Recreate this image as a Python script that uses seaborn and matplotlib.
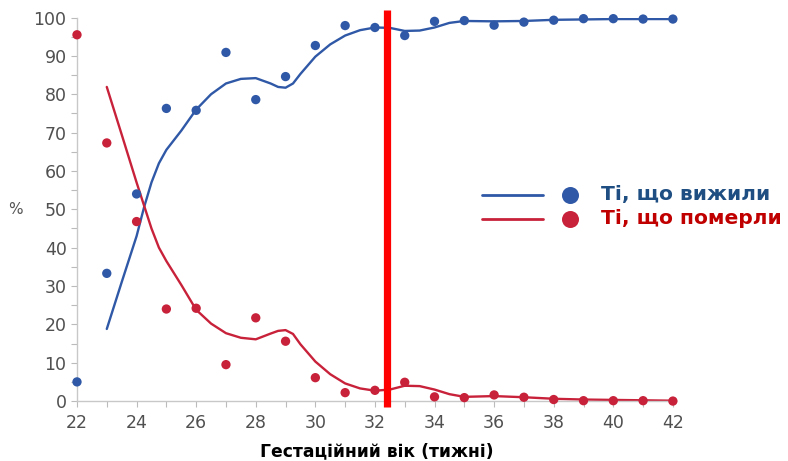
import numpy as np
import pandas as pd
import seaborn as sns
import matplotlib
matplotlib.use("Agg")
import matplotlib.pyplot as plt

# ---- data ----
weeks = list(range(22, 43))
survived_pts = [5, 33.3, 54, 76.3, 75.8, 90.9, 78.6, 84.6, 92.7, 97.9, 97.4,
                95.3, 99.0, 99.2, 98.0, 98.8, 99.3, 99.7, 99.7, 99.6, 99.6]
died_pts = [95.5, 67.3, 46.8, 24.0, 24.2, 9.5, 21.7, 15.6, 6.1, 2.2, 2.8,
            4.9, 1.1, 0.9, 1.6, 1.0, 0.4, 0.1, 0.1, 0.1, 0.0]

curve_x = [23, 23.5, 24, 24.25, 24.5, 24.75, 25, 25.5, 26, 26.5, 27, 27.5,
           28, 28.5, 28.75, 29, 29.25, 29.5, 30, 30.5, 31, 31.5, 32, 32.5,
           33, 33.5, 34, 34.5, 35, 36, 37, 38, 39, 40, 41, 42]
survived_curve = [18.8, 31, 43, 50.5, 57, 62, 65.5, 70.5, 76, 80, 82.8, 84,
                  84.2, 82.8, 81.9, 81.7, 82.8, 85.3, 89.8, 93, 95.3, 96.7,
                  97.4, 97.3, 96.5, 96.6, 97.4, 98.6, 99.1, 99.0, 99.1, 99.4,
                  99.5, 99.6, 99.6, 99.6]
died_curve = [81.9, 69.5, 57, 51, 45, 40, 36.5, 30.3, 23.8, 20.2, 17.7, 16.5,
              16.1, 17.6, 18.3, 18.5, 17.5, 14.8, 10.3, 7.0, 4.6, 3.3, 2.7,
              3.0, 4.0, 3.9, 3.0, 1.8, 1.1, 1.3, 1.0, 0.6, 0.4, 0.3, 0.2, 0.1]

cutoff_week = 32.4
labels = ["Ті, що вижили", "Ті, що померли"]
xticks = list(range(22, 43, 2))
yticks = list(range(0, 101, 10))

blue = "#2f58a6"
red = "#c8213a"
blue_text = "#1f4e82"
red_text = "#c00000"

pts = pd.DataFrame({"week": weeks * 2,
                    "value": survived_pts + died_pts,
                    "group": [labels[0]] * len(weeks) + [labels[1]] * len(weeks)})
crv = pd.DataFrame({"week": curve_x * 2,
                    "value": survived_curve + died_curve,
                    "group": [labels[0]] * len(curve_x) + [labels[1]] * len(curve_x)})

sns.set_style("white")
plt.rcParams["font.family"] = ["DejaVu Sans"]

fig = plt.figure(figsize=(7.88, 4.61), dpi=100)
ax = fig.add_axes([0.0977, 0.130, 0.760, 0.832])

palette = {labels[0]: blue, labels[1]: red}
sns.lineplot(data=crv, x="week", y="value", hue="group", palette=palette,
             linewidth=1.7, ax=ax, legend=False, sort=False)
sns.scatterplot(data=pts, x="week", y="value", hue="group", palette=palette,
                s=45, linewidth=0, ax=ax, legend=False, clip_on=False, zorder=3)

ax.plot([cutoff_week, cutoff_week], [-1.5, 102], color="#ff0000", lw=5.2,
        solid_capstyle="butt", clip_on=False, zorder=4)

ax.set_xlim(22, 42.1)
ax.set_ylim(0, 100)
ax.set_xticks(xticks)
ax.set_xticks(weeks, minor=True)
ax.set_yticks(yticks)
ax.set_yticks(list(range(0, 101, 5)), minor=True)
ax.tick_params(axis="both", which="both", direction="out", length=4,
               width=0.8, color="#bbbbbb", labelsize=12.5, labelcolor="#505050",
               bottom=True, left=True)
ax.tick_params(axis="x", pad=5)
for s in ["top", "right"]:
    ax.spines[s].set_visible(False)
for s in ["left", "bottom"]:
    ax.spines[s].set_color("#c8c8c8")
    ax.spines[s].set_linewidth(1.0)

ax.set_xlabel("Гестаційний вік (тижні)", fontsize=12.3, fontweight="bold",
              color="black", labelpad=8)
ax.set_ylabel("%", fontsize=11, color="#555555", rotation=0, va="center")
ax.yaxis.set_label_coords(-0.103, 0.50)

# legend drawn as annotations in data coordinates
leg_y = [53.8, 47.5]
for lab, yy, c, tc in zip(labels, leg_y, [blue, red], [blue_text, red_text]):
    ax.plot([35.6, 37.65], [yy, yy], color=c, lw=2.0, clip_on=False)
    ax.scatter([38.55], [yy], s=150, color=c, linewidth=0, clip_on=False)
    ax.text(39.6, yy, lab, color=tc, fontsize=14.6, fontweight="bold",
            va="center", ha="left", clip_on=False)

fig.savefig("out.png", dpi=100)
